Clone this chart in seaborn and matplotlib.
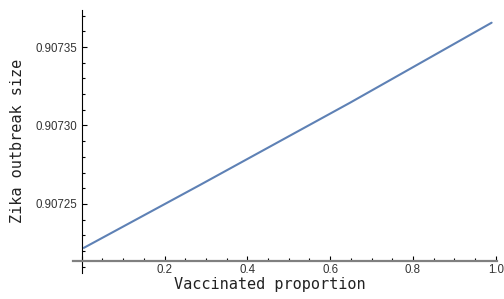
import matplotlib
matplotlib.use('Agg')
import matplotlib.pyplot as plt
import matplotlib.ticker as mticker
import seaborn as sns
import pandas as pd

# values
vacc = [0.005, 0.25, 0.2857, 0.5, 0.648, 0.75, 0.99]
outbreak = [0.9072220, 0.9072570, 0.9072621, 0.9072931, 0.9073145, 0.9073297, 0.9073655]
x_ticks = [0.0, 0.2, 0.4, 0.6, 0.8, 1.0]
x_labels = ['', '0.2', '0.4', '0.6', '0.8', '1.0']
y_ticks = [0.90725, 0.90730, 0.90735]
y_labels = ['0.90725', '0.90730', '0.90735']

data = pd.DataFrame({'vacc': vacc, 'size': outbreak})

sns.set_style('white')
plt.rcParams['font.family'] = ['Liberation Sans', 'DejaVu Sans']
plt.rcParams['text.color'] = '#222222'
plt.rcParams['axes.labelcolor'] = '#222222'
plt.rcParams['xtick.labelcolor'] = '#333333'
plt.rcParams['ytick.labelcolor'] = '#333333'

fig = plt.figure(figsize=(5.04, 2.99), dpi=100)
ax = fig.add_axes([73 / 504, 26 / 299, 424 / 504, 263 / 299])

sns.lineplot(data=data, x='vacc', y='size', color='#5E81B5', linewidth=1.5, ax=ax)

ax.set_xlim(-0.021, 1.003)
ax.set_ylim(0.907206, 0.9073736)

ax.spines['top'].set_visible(False)
ax.spines['right'].set_visible(False)
ax.spines['left'].set_position(('data', 0))
ax.spines['bottom'].set_position(('data', 0.9072137))
ax.spines['left'].set_color('black')
ax.spines['left'].set_linewidth(0.8)
ax.spines['bottom'].set_color('#808080')
ax.spines['bottom'].set_linewidth(1.6)

ax.set_xticks(x_ticks)
ax.set_xticklabels(x_labels)
ax.set_yticks(y_ticks)
ax.set_yticklabels(y_labels)
ax.xaxis.set_minor_locator(mticker.MultipleLocator(0.05))
ax.yaxis.set_minor_locator(mticker.MultipleLocator(0.00001))
ax.tick_params(which='both', direction='in', color='black', width=0.8,
               labelsize=8.3, bottom=True, left=True)
ax.tick_params(which='major', length=3.6, pad=3)
ax.tick_params(axis='x', which='major', pad=2)
ax.tick_params(which='minor', length=2.2)

ax.set_xlabel('Vaccinated proportion', family='DejaVu Sans Mono', fontsize=11, va='center')
ax.set_ylabel('Zika outbreak size', family='DejaVu Sans Mono', fontsize=11, va='center')
ax.xaxis.set_label_coords(0.465, -0.045)
ax.yaxis.set_label_coords(-0.13, 0.502)

fig.savefig('out.png', dpi=100)
